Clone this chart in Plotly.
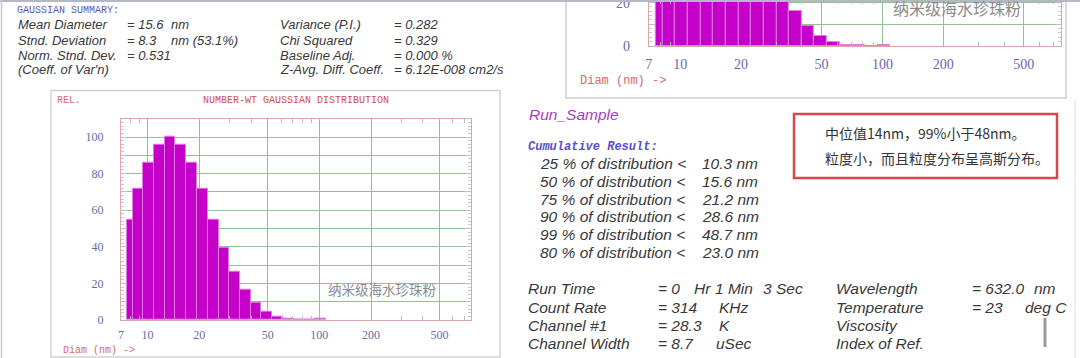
import plotly.graph_objects as go
import math

W, H = 1080, 358

# ---------------- data ----------------
bin_edges_nm = [7.6, 8.2, 9.4, 10.9, 12.6, 14.5, 16.8, 19.4, 22.4, 25.9, 29.9,
                34.5, 39.9, 46.0, 53.2, 61.4, 70.9, 81.8, 94.5, 109.1]
rel_number = [55, 72, 86, 96, 100, 96, 86, 72, 55, 39.5, 26.5,
              16.3, 9.2, 4.6, 1.9, 0.6, 0.3, 0.2, 0.6]

x_tick_vals = [7, 10, 20, 50, 100, 200, 500]
x_minor_vals = [8, 9, 30, 40, 60, 70, 80, 90, 300, 400, 600, 700]
y_tick_vals = [0, 10, 20, 30, 40, 50, 60, 70, 80, 90, 100]
y_tick_text = ["0", "", "20", "", "40", "", "60", "", "80", "", "100"]

summary_left_labels = ["Mean Diameter", "Stnd. Deviation", "Norm. Stnd. Dev.", "(Coeff. of Var'n)"]
summary_left_values = ["= 15.6", "= 8.3", "= 0.531", ""]
summary_left_units = ["nm", "nm (53.1%)", "", ""]
summary_right_labels = ["Variance (P.I.)", "Chi Squared", "Baseline Adj.", "Z-Avg. Diff. Coeff."]
summary_right_values = ["= 0.282", "= 0.329", "= 0.000 %", "= 6.12E-008 cm2/s"]

cum_percent = [25, 50, 75, 90, 99, 80]
cum_diam_nm = [10.3, 15.6, 21.2, 28.6, 48.7, 23.0]

run_labels = ["Run Time", "Count Rate", "Channel #1", "Channel Width"]
run_values = ["= 0", "= 314", "= 28.3", "= 8.7"]
run_units = ["Hr", "KHz", "K", "uSec"]
inst_labels = ["Wavelength", "Temperature", "Viscosity", "Index of Ref."]
inst_values = ["= 632.0", "= 23", "", ""]
inst_units = ["nm", "deg C", "", ""]

note_lines = ["中位值14nm，99%小于48nm。", "粒度小，而且粒度分布呈高斯分布。"]
watermark = "纳米级海水珍珠粉"

# ---------------- helpers ----------------
def px(x):
    return x / W

def py(y):
    return 1 - y / H

lo = bin_edges_nm[:-1]
hi = bin_edges_nm[1:]
mids = [(a + b) / 2 for a, b in zip(lo, hi)]
widths = [b - a for a, b in zip(lo, hi)]

BAR = "#c400c9"
BAR_EDGE = "#e27ae6"
GRID = "#92c192"
FRAME = "#dba6a6"
TICKC = "#6868ac"
SALMON = "#d46a6a"
TXT = "#383838"

fig = go.Figure()
for xa, ya in (("x", "y"), ("x2", "y2")):
    fig.add_trace(go.Bar(x=mids, y=rel_number, width=widths, xaxis=xa, yaxis=ya,
                         marker=dict(color=BAR, line=dict(color=BAR_EDGE, width=1)),
                         showlegend=False, hoverinfo="skip"))

xr = [math.log10(7), math.log10(764)]

def xaxis_cfg(domain, fsize, standoff, anchor):
    return dict(type="log", range=xr, domain=domain, tickmode="array", anchor=anchor,
                tickvals=x_tick_vals, ticktext=[str(v) for v in x_tick_vals],
                ticks="", showgrid=True, gridcolor=GRID, gridwidth=1, automargin=False,
                showline=True, linecolor=FRAME, linewidth=1, mirror="allticks",
                tickfont=dict(family="Liberation Serif", size=fsize, color=TICKC),
                ticklabelstandoff=standoff, zeroline=False, ticklabeloverflow="allow",
                minor=dict(tickmode="array", tickvals=x_minor_vals, ticks="inside",
                           ticklen=4, tickcolor="#b9b9b9", showgrid=False))

def yaxis_cfg(domain, rng, fsize, standoff, anchor):
    return dict(range=rng, domain=domain, tickmode="array", tickvals=y_tick_vals,
                ticktext=y_tick_text, ticks="inside", ticklen=6, tickcolor="#c0c0c0",
                showgrid=True, gridcolor=GRID, gridwidth=1, zeroline=False, automargin=False,
                showline=True, linecolor=FRAME, linewidth=1, mirror="allticks",
                tickfont=dict(family="Liberation Serif", size=fsize, color=TICKC),
                ticklabelstandoff=standoff, anchor=anchor, ticklabeloverflow="allow",
                minor=dict(dtick=2, ticks="inside", ticklen=3, tickcolor="#c8c8c8",
                           showgrid=False))

fig.update_layout(
    width=W, height=H, margin=dict(l=0, r=0, t=0, b=0, autoexpand=False),
    paper_bgcolor="white", plot_bgcolor="white", bargap=0,
    xaxis=xaxis_cfg([px(121), px(471)], 12, 4, "y"),
    yaxis=yaxis_cfg([py(320), py(118.7)], [0, 110], 12, 14, "x"),
    xaxis2=xaxis_cfg([px(648.8), px(1061)], 14, 5, "y2"),
    yaxis2=yaxis_cfg([py(46), 1.0], [0, 21.2], 14, 15, "x2"),
)

ann = []

def T(x, y, text, size, color=TXT, family="Liberation Sans", italic=False, anchor="left"):
    ann.append(dict(x=px(x), y=py(y), xref="paper", yref="paper", text=text,
                    showarrow=False, xanchor=anchor, yanchor="middle",
                    borderpad=0, borderwidth=0,
                    font=dict(family=family, size=size, color=color,
                              style="italic" if italic else "normal")))

# Gaussian summary
T(16.5, 10.3, "GAUSSIAN SUMMARY:", 10, color="#5a5ab4", family="Liberation Mono")
rows_y = [25.0, 40.0, 55.0, 70.0]
for i, yy in enumerate(rows_y):
    T(18, yy, summary_left_labels[i], 13, italic=True)
    if summary_left_values[i]:
        T(127, yy, summary_left_values[i], 13, italic=True)
    if summary_left_units[i]:
        T(171, yy, summary_left_units[i], 13, italic=True)
    T(280, yy, summary_right_labels[i], 13, italic=True)
    T(394, yy, summary_right_values[i], 13, italic=True)

# main chart texts
T(57, 100.5, "REL.", 10, color=SALMON, family="Liberation Mono")
T(203, 100.5, "NUMBER-WT GAUSSIAN DISTRIBUTION", 10, color="#d24e4e", family="Liberation Mono")
T(63, 350, "Diam (nm) ->", 10, color=SALMON, family="Liberation Mono")
T(382.5, 288.5, watermark, 13.5, color="#8c8c8c", family="Noto Sans CJK SC", anchor="center")

# top-right chart texts
T(580, 81, "Diam (nm) ->", 12, color=SALMON, family="Liberation Mono")
T(956.5, 8, watermark, 16, color="#8c8c8c", family="Noto Sans CJK SC", anchor="center")

# cumulative result
T(529, 115, "Run_Sample", 15.5, color="#a83cc0", italic=True)
T(528, 146.7, "<b>Cumulative Result:</b>", 12, color="#5b4fc9", family="Liberation Mono", italic=True)
cum_y = [163.3, 181, 199, 216.7, 235, 252.7]
for p, d, yy in zip(cum_percent, cum_diam_nm, cum_y):
    T(540, yy, f"{p} % of distribution <", 15.5, italic=True)
    T(701.7, yy, f"{d:.1f} nm", 15.5, italic=True)

# note box
T(825, 133, note_lines[0], 14, color="#333333", family="Noto Sans CJK SC")
T(825, 158, note_lines[1], 14, color="#333333", family="Noto Sans CJK SC")

# run info
run_y = [288.5, 307.0, 325.0, 343.5]
unit_x = [694, 719, 719, 715.7]
for i, yy in enumerate(run_y):
    T(528, yy, run_labels[i], 15.5, italic=True)
    T(657.5, yy, run_values[i], 15.5, italic=True)
    T(unit_x[i], yy, run_units[i], 15.5, italic=True)
    T(836, yy, inst_labels[i], 15.5, italic=True)
    if inst_values[i]:
        T(972, yy, inst_values[i], 15.5, italic=True)
    if inst_units[i]:
        T(1034 if i == 0 else 1025, yy, inst_units[i], 15.5, italic=True)
T(714.6, run_y[0], "1 Min", 15.5, italic=True)
T(763, run_y[0], "3 Sec", 15.5, italic=True)

fig.update_layout(annotations=ann)

shapes = []

def rect(x0, y0, x1, y1, color, w):
    shapes.append(dict(type="rect", xref="paper", yref="paper", x0=px(x0), x1=px(x1),
                       y0=py(y1), y1=py(y0), line=dict(color=color, width=w),
                       fillcolor="rgba(0,0,0,0)", layer="above"))

def line(x0, y0, x1, y1, color, w):
    shapes.append(dict(type="line", xref="paper", yref="paper", x0=px(x0), x1=px(x1),
                       y0=py(y0), y1=py(y1), line=dict(color=color, width=w), layer="above"))

rect(51, 90.5, 500, 357, "#d2d2d2", 1.5)
rect(566, -5, 1066, 98, "#cdcdcd", 1.5)
rect(794, 114, 1057, 178, "#d6494b", 2.5)
line(0, 1, 1080, 1, "#b4b8c6", 2)
line(1.5, 0, 1.5, 358, "#c9ccd6", 1.5)
line(1075, 100, 1075, 358, "#dcdcdc", 1)
line(1045, 318, 1045, 347, "#9a9a9a", 3)
fig.update_layout(shapes=shapes)

fig.write_html("out.html", config={"displayModeBar": False},
               post_script="document.body.style.margin='0';document.body.style.overflow='hidden';")
